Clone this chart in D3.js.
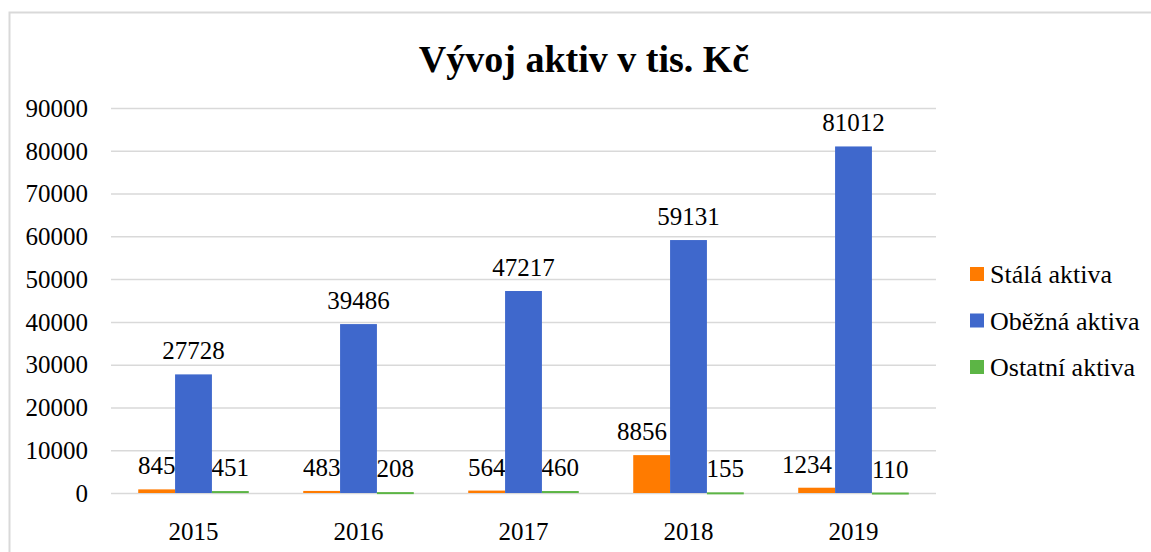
<!DOCTYPE html>
<html>
<head>
<meta charset="utf-8">
<script src="https://cdn.jsdelivr.net/npm/d3@7"></script>
<style>
    body { margin: 0; background: #fff; }
    svg text { font-family: "Liberation Serif", "Times New Roman", serif; fill: #000; }
</style>
</head>
<body>
<svg></svg>
<script>
const years = ["2015", "2016", "2017", "2018", "2019"]
const seriesNames = ["Stálá aktiva", "Oběžná aktiva", "Ostatní aktiva"]
const stala = [845, 483, 564, 8856, 1234]
const obezna = [27728, 39486, 47217, 59131, 81012]
const ostatni = [451, 208, 460, 155, 110]
const yTicks = [0, 10000, 20000, 30000, 40000, 50000, 60000, 70000, 80000, 90000]
const colors = ["#ff7b00", "#3f68cc", "#5cb545"]

function drawChart() {
    const width = 1151
    const height = 552
    const plot = { left: 111, right: 936, top: 108, bottom: 493 }

    const svg = d3.select("svg")
        .attr("width", width)
        .attr("height", height)

    // outer chart frame (cut off on the right and bottom like the screenshot)
    svg.append("path")
        .attr("d", "M9.5," + height + "V12.5H" + width)
        .style("fill", "none")
        .style("stroke", "#d9d9d9")
        .style("stroke-width", 2)

    svg.append("text")
        .attr("x", 584)
        .attr("y", 72)
        .attr("text-anchor", "middle")
        .style("font-size", "38px")
        .style("font-weight", "bold")
        .text("Vývoj aktiv v tis. Kč")

    const xScale = d3.scaleBand()
        .domain(years)
        .range([plot.left, plot.right])
        .paddingInner(0.33)
        .paddingOuter(0.165)

    const subScale = d3.scaleBand()
        .domain(seriesNames)
        .range([0, xScale.bandwidth()])

    const yScale = d3.scaleLinear()
        .domain([0, 90000])
        .range([plot.bottom, plot.top])

    // gridlines
    svg.append("g")
        .selectAll("line")
        .data(yTicks)
        .enter()
        .append("line")
        .attr("x1", plot.left)
        .attr("x2", plot.right)
        .attr("y1", (d) => yScale(d) + 0.5)
        .attr("y2", (d) => yScale(d) + 0.5)
        .style("stroke", "#d9d9d9")
        .style("stroke-width", 1.5)

    // y axis labels
    const yAxis = svg.append("g")
        .attr("transform", "translate(" + (plot.left - 23) + ",0)")
        .call(d3.axisLeft(yScale).tickValues(yTicks).tickSize(0).tickPadding(0).tickFormat(d3.format("d")))
    yAxis.select(".domain").remove()
    yAxis.attr("font-family", null)
    yAxis.selectAll("text")
        .style("font-size", "25px")
        .attr("dy", "0.33em")

    // x axis labels
    const xAxis = svg.append("g")
        .attr("transform", "translate(0," + 522 + ")")
        .call(d3.axisBottom(xScale).tickSize(0).tickPadding(0))
    xAxis.select(".domain").remove()
    xAxis.attr("font-family", null)
    xAxis.selectAll("text")
        .style("font-size", "25px")
        .attr("dy", "0.71em")

    const data = []
    years.forEach((y, i) => {
        data.push({ year: y, series: seriesNames[0], value: stala[i], color: colors[0] })
        data.push({ year: y, series: seriesNames[1], value: obezna[i], color: colors[1] })
        data.push({ year: y, series: seriesNames[2], value: ostatni[i], color: colors[2] })
    })

    // data labels first, the blue bars sit over the small neighbouring labels
    // wide orange labels are pushed left so they end before the blue bar
    const wide = (d) => d.series === seriesNames[0] && String(d.value).length > 3
    svg.append("g")
        .selectAll("text")
        .data(data)
        .enter()
        .append("text")
        .attr("x", (d) => wide(d)
            ? xScale(d.year) + subScale(d.series) + subScale.bandwidth() - 3
            : xScale(d.year) + subScale(d.series) + subScale.bandwidth() / 2)
        .attr("y", (d) => yScale(d.value) - 15)
        .attr("text-anchor", (d) => wide(d) ? "end" : "middle")
        .style("font-size", "25px")
        .text((d) => d.value)

    svg.append("g")
        .selectAll("rect")
        .data(data)
        .enter()
        .append("rect")
        .attr("x", (d) => xScale(d.year) + subScale(d.series))
        .attr("y", (d) => yScale(d.value))
        .attr("width", subScale.bandwidth())
        .attr("height", (d) => Math.max(2, plot.bottom - yScale(d.value)))
        .style("fill", (d) => d.color)

    // legend
    const legend = svg.append("g")
        .selectAll("g")
        .data(seriesNames)
        .enter()
        .append("g")
        .attr("transform", (d, i) => "translate(970," + (274 + i * 46.5) + ")")

    legend.append("rect")
        .attr("x", 0)
        .attr("y", -7)
        .attr("width", 14)
        .attr("height", 14)
        .style("fill", (d, i) => colors[i])

    legend.append("text")
        .attr("x", 20)
        .attr("y", 0)
        .attr("dy", "0.35em")
        .style("font-size", "26px")
        .text((d) => d)
}

drawChart()
</script>
</body>
</html>
